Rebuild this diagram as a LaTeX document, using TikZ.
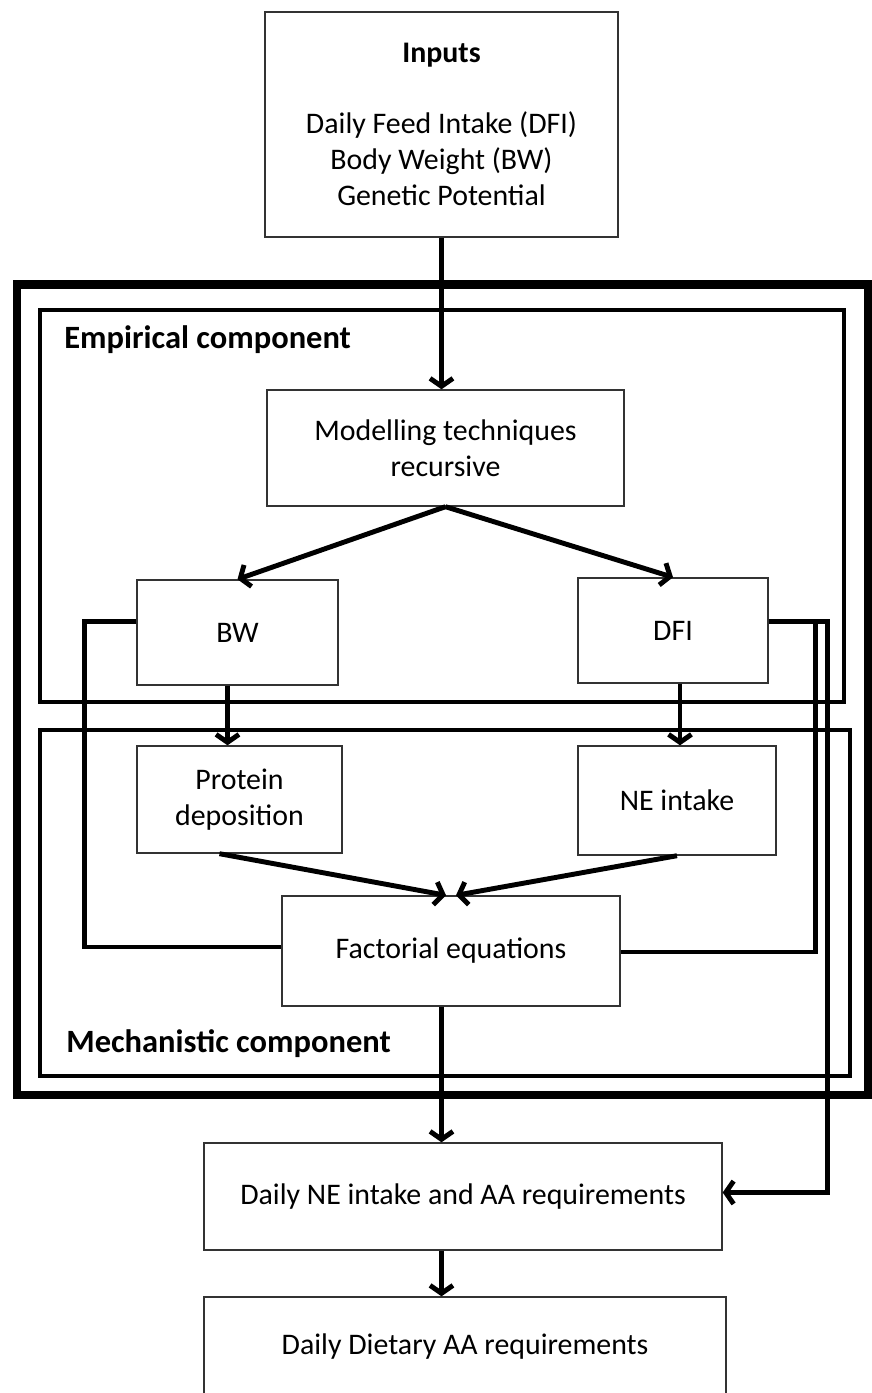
\documentclass[tikz,border=0pt]{standalone}
\usepackage{fontspec}
\setmainfont{Carlito}
\usepackage{tikz}
\usetikzlibrary{arrows.meta, positioning, calc}

\begin{document}
\begin{tikzpicture}[
    box/.style={draw=black!80, line width=0.8pt, align=center, font=\fontsize{17}{20.5}\selectfont, inner sep=0pt},
    frame/.style={line width=2.8pt},
    conn/.style={line width=2.8pt},
    arr/.style={conn, -{Straight Barb[length=4.5pt,width=13pt]}},
    title/.style={font=\fontsize{18.5}{20}\selectfont\bfseries, anchor=west, inner sep=0pt},
]
    \useasboundingbox (0,0) rectangle (17.44,-27.86);

    % component frames
    \draw[line width=4.8pt] (0.34,-5.69) rectangle (17.36,-21.9);
    \draw[frame] (0.8,-6.2) rectangle (16.88,-14.04);
    \draw[frame] (0.8,-14.6) rectangle (17.0,-21.52);
    \node[title] (emp) at (1.28,-6.8) {Empirical component};
    \node[title] (mech) at (1.32,-20.88) {Mechanistic component};

    % boxes
    \node[box, minimum width=7.06cm, minimum height=4.5cm] (inputs) at (8.83,-2.49) {\textbf{Inputs}\\[20pt]Daily Feed Intake (DFI)\\Body Weight (BW)\\Genetic Potential};
    \node[box, minimum width=7.14cm, minimum height=2.32cm] (model) at (8.91,-8.96) {Modelling techniques\\recursive};
    \node[box, minimum width=4.02cm, minimum height=2.1cm] (bw) at (4.75,-12.65) {BW};
    \node[box, minimum width=3.8cm, minimum height=2.1cm] (dfi) at (13.46,-12.61) {DFI};
    \node[box, minimum width=4.1cm, minimum height=2.14cm] (protein) at (4.79,-15.99) {Protein\\deposition};
    \node[box, minimum width=3.96cm, minimum height=2.18cm] (neint) at (13.54,-16.01) {NE intake};
    \node[box, minimum width=6.76cm, minimum height=2.2cm] (fact) at (9.02,-19.02) {Factorial equations};
    \node[box, minimum width=10.36cm, minimum height=2.14cm] (dailyne) at (9.26,-23.93) {Daily NE intake and AA requirements};
    \node[box, minimum width=10.44cm, minimum height=2.0cm] (dietary) at (9.3,-26.94) {Daily Dietary AA requirements};

    % connectors
    \draw[arr] (inputs.south) -- (inputs.south |- model.north);
    \draw[arr] (model.south) -- (bw.north);
    \draw[arr] (model.south) -- (dfi.north);
    \draw[arr] ([xshift=-0.2cm]bw.south) -- ([xshift=-0.2cm]bw.south |- protein.north);
    \draw[arr] ([xshift=0.14cm]dfi.south) -- ([xshift=0.14cm]dfi.south |- neint.north);
    \draw[arr] ([xshift=-0.4cm]protein.south) -- ([xshift=-0.1cm]fact.north);
    \draw[arr] (neint.south) -- ([xshift=0.1cm]fact.north);
    \draw[conn] ([yshift=0.22cm]bw.west) -- ++(-1.04,0) |- ([yshift=0.08cm]fact.west);
    \draw[conn] ([yshift=0.18cm]dfi.east) -- ++(0.94,0) |- ([yshift=-0.02cm]fact.east);
    \draw[arr] ([yshift=0.18cm]dfi.east) -- ++(1.18,0) |- ([yshift=0.08cm]dailyne.east);
    \draw[arr] (fact.south -| inputs.south) -- (dailyne.north -| inputs.south);
    \draw[arr] (dailyne.south -| inputs.south) -- (dietary.north -| inputs.south);
\end{tikzpicture}
\end{document}
